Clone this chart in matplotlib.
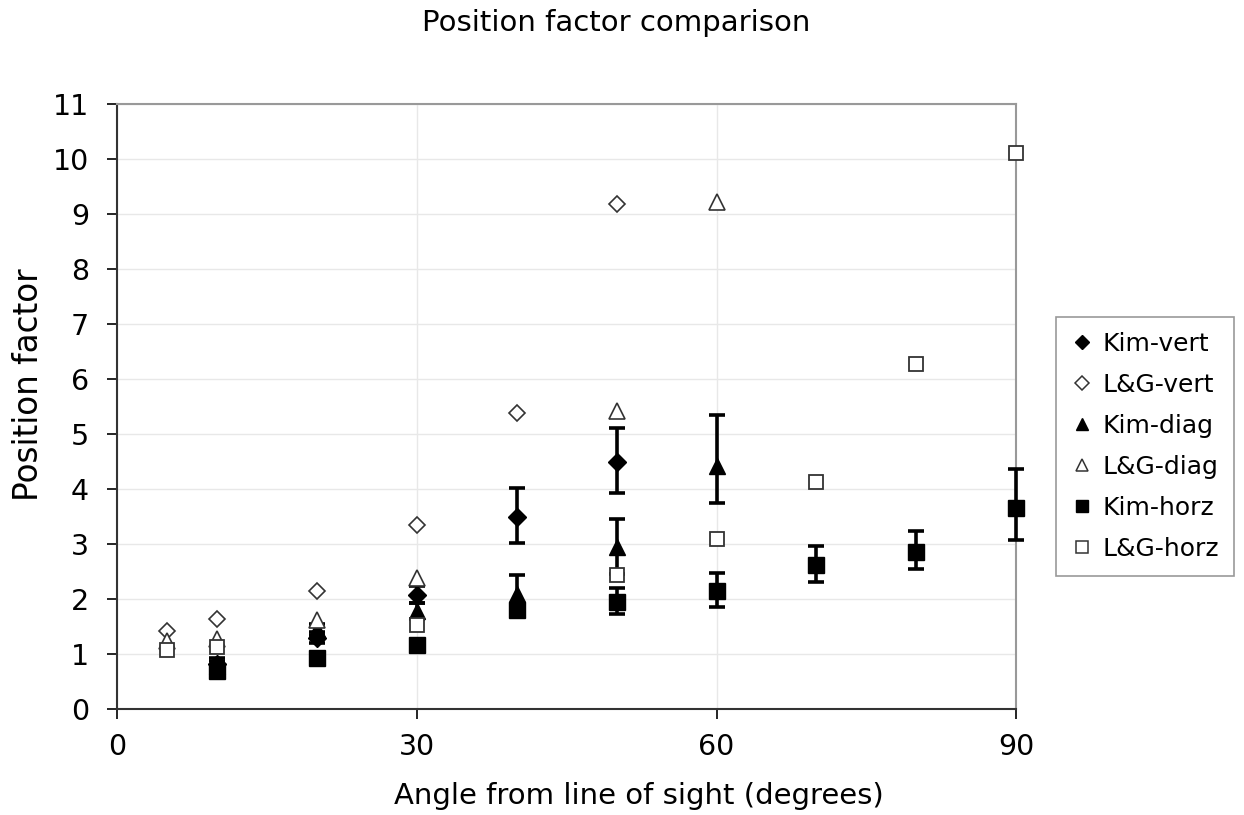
import numpy as np
import matplotlib
matplotlib.use("Agg")
import matplotlib.pyplot as plt
from matplotlib.lines import Line2D

nan = np.nan

# angle from line of sight (degrees)
angles = [5, 10, 20, 30, 40, 50, 60, 70, 80, 90]

# position factors
kim_vert = [nan, 0.82, 1.30, 2.08, 3.50, 4.50, nan, nan, nan, nan]
kim_vert_lo = [0, 0.10, 0.10, 0.15, 0.48, 0.57, 0, 0, 0, 0]
kim_vert_hi = [0, 0.10, 0.10, 0.15, 0.52, 0.62, 0, 0, 0, 0]

lg_vert = [1.42, 1.63, 2.14, 3.35, 5.38, 9.18, nan, nan, nan, nan]

kim_diag = [nan, 0.78, 1.45, 1.78, 2.10, 2.95, 4.42, nan, nan, nan]
kim_diag_lo = [0, 0.10, 0.10, 0.15, 0.30, 0.50, 0.67, 0, 0, 0]
kim_diag_hi = [0, 0.10, 0.10, 0.15, 0.33, 0.50, 0.92, 0, 0, 0]

lg_diag = [1.24, 1.28, 1.62, 2.38, nan, 5.42, 9.22, nan, nan, nan]

kim_horz = [nan, 0.70, 0.93, 1.17, 1.80, 1.95, 2.14, 2.62, 2.86, 3.65]
kim_horz_lo = [0, 0.08, 0.08, 0.08, 0.10, 0.23, 0.29, 0.31, 0.32, 0.58]
kim_horz_hi = [0, 0.08, 0.08, 0.08, 0.10, 0.26, 0.33, 0.34, 0.37, 0.71]

lg_horz = [1.07, 1.12, nan, 1.52, nan, 2.43, 3.10, 4.13, 6.27, 10.12]

labels = ["Kim-vert", "L&G-vert", "Kim-diag", "L&G-diag", "Kim-horz", "L&G-horz"]

fig = plt.figure(figsize=(12.44, 8.15), dpi=100)
ax = fig.add_axes([0.094, 0.130, 0.723, 0.742])

err_kw = dict(ecolor="black", elinewidth=2.6, capsize=6, capthick=2.6, linestyle="none")
edge = "#333333"

ax.errorbar(angles, kim_vert, yerr=[kim_vert_lo, kim_vert_hi], marker="D",
            ms=9, mfc="black", mec="black", zorder=3, **err_kw)
ax.plot(angles, lg_vert, "D", ms=8, mfc="white", mec=edge, mew=1.2,
        ls="none", zorder=4)
ax.errorbar(angles, kim_diag, yerr=[kim_diag_lo, kim_diag_hi], marker="^",
            ms=11, mfc="black", mec="black", zorder=5, **err_kw)
ax.plot(angles, lg_diag, "^", ms=11, mfc="white", mec=edge, mew=1.2,
        ls="none", zorder=6)
ax.errorbar(angles, kim_horz, yerr=[kim_horz_lo, kim_horz_hi], marker="s",
            ms=11, mfc="black", mec="black", zorder=7, **err_kw)
ax.plot(angles, lg_horz, "s", ms=10, mfc="white", mec=edge, mew=1.3,
        ls="none", zorder=8)

# let the marks at 90 degrees spill over the frame like the original
for art in ax.lines + list(ax.collections):
    art.set_clip_on(False)

ax.set_xlim(0, 90)
ax.set_ylim(0, 11)
ax.set_xticks([0, 30, 60, 90])
ax.set_yticks(range(0, 12))
ax.tick_params(axis="both", labelsize=20.5, length=7, width=1.2, direction="out")
ax.tick_params(axis="y", pad=13)
ax.tick_params(axis="x", pad=10)
ax.grid(True, color="#e8e8e8", linewidth=1.0, zorder=0)
ax.set_axisbelow(True)
for side in ["top", "right"]:
    ax.spines[side].set_color("#999999")
    ax.spines[side].set_linewidth(1.5)
for side in ["left", "bottom"]:
    ax.spines[side].set_color("#333333")
    ax.spines[side].set_linewidth(1.5)

ax.set_xlabel("Angle from line of sight (degrees)", fontsize=21)
ax.xaxis.set_label_coords(0.58, -0.121)
ax.set_ylabel("Position factor", fontsize=23.5)
ax.yaxis.set_label_coords(-0.080, 0.537)
fig.text(0.495, 0.972, "Position factor comparison", ha="center", va="center",
         fontsize=21)

# legend shows only the markers
handles = [
    Line2D([], [], ls="none", marker="D", ms=7, mfc="black", mec="black"),
    Line2D([], [], ls="none", marker="D", ms=7, mfc="white", mec=edge, mew=1.1),
    Line2D([], [], ls="none", marker="^", ms=9, mfc="black", mec="black"),
    Line2D([], [], ls="none", marker="^", ms=9, mfc="white", mec=edge, mew=1.1),
    Line2D([], [], ls="none", marker="s", ms=9, mfc="black", mec="black"),
    Line2D([], [], ls="none", marker="s", ms=9, mfc="white", mec=edge, mew=1.1),
]
leg = fig.legend(handles=handles, labels=labels, loc="upper left",
                 bbox_to_anchor=(0.849, 0.611), bbox_transform=fig.transFigure,
                 fontsize=18, handlelength=0.9, handletextpad=0.35,
                 labelspacing=0.68, borderpad=0.6, borderaxespad=0,
                 fancybox=False, edgecolor="#999999", framealpha=1)
leg.get_frame().set_linewidth(1.2)

fig.savefig("out.png", dpi=100)
